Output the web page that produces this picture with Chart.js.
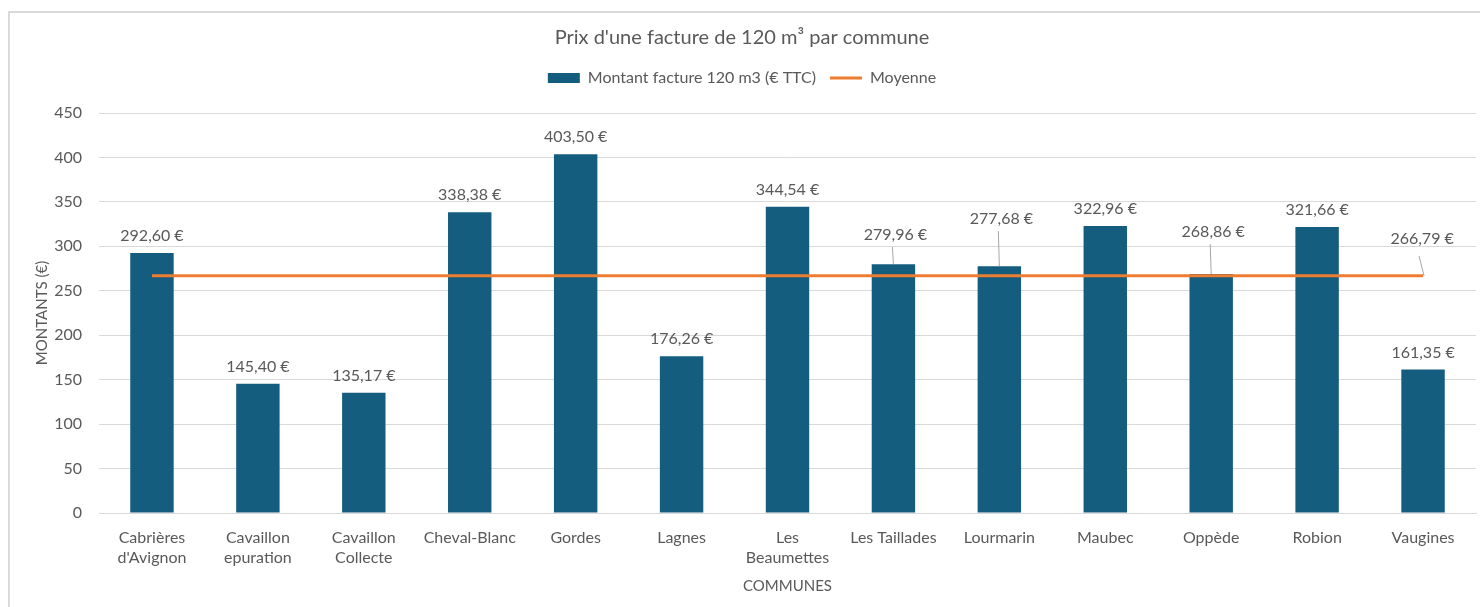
<!DOCTYPE html>
<html>
<head>
<meta charset="utf-8">
<script src="https://cdn.jsdelivr.net/npm/chart.js@4.4.0/dist/chart.umd.min.js"></script>
<style>
    html, body { margin: 0; padding: 0; background: #ffffff; }
    #wrap { position: absolute; left: 0; top: 0; width: 1480px; height: 607px; }
    #frame { position: absolute; left: 8px; top: 11px; width: 1480px; height: 610px;
             border-left: 2px solid #d9d9d9; border-top: 2px solid #d9d9d9; box-sizing: border-box; }
</style>
</head>
<body>
<div id="frame"></div>
<div id="wrap"><canvas id="factureChart"></canvas></div>
<script>
// Data
const communes = [
    ['Cabrières', "d'Avignon"], ['Cavaillon', 'epuration'], ['Cavaillon', 'Collecte'],
    'Cheval-Blanc', 'Gordes', 'Lagnes', ['Les', 'Beaumettes'], 'Les Taillades',
    'Lourmarin', 'Maubec', 'Oppède', 'Robion', 'Vaugines'
];
const montants = [292.60, 145.40, 135.17, 338.38, 403.50, 176.26, 344.54, 279.96, 277.68, 322.96, 268.86, 321.66, 161.35];
const moyenne = [266.79, 266.79, 266.79, 266.79, 266.79, 266.79, 266.79, 266.79, 266.79, 266.79, 266.79, 266.79, 266.79];
const yTicks = [0, 50, 100, 150, 200, 250, 300, 350, 400, 450];

const colors = {
    bar: '#155d7e',
    line: '#ed7d31',
    text: '#595959',
    grid: '#d9d9d9',
    leader: '#a6a6a6'
};

const fontFamily = 'Lato, "Open Sans", sans-serif';

function euro(v) {
    return v.toFixed(2).replace('.', ',') + '\u202f€';
}

// Data labels drawn above bars, some moved up with a leader line
const labelPlugin = {
    id: 'valueLabels',
    beforeInit(chart) {
        // extra room between legend and plot
        const legend = chart.legend;
        if (!legend) return;
        const fit = legend.fit;
        legend.fit = function() {
            fit.call(this);
            this.height += 17;
        };
    },
    afterDatasetsDraw(chart) {
        const ctx = chart.ctx;
        // lift (px) of the label centre above the mark, with leader line
        const barShift = { 7: -29, 8: -47, 10: -42 };
        ctx.save();
        ctx.font = '16px ' + fontFamily;
        ctx.fillStyle = '#595959';
        ctx.textAlign = 'center';
        ctx.textBaseline = 'middle';
        ctx.strokeStyle = colors.leader;
        ctx.lineWidth = 1;

        const barMeta = chart.getDatasetMeta(1);
        barMeta.data.forEach((bar, i) => {
            const v = montants[i];
            let cy = bar.y - 17;
            let cx = bar.x;
            if (barShift[i] !== undefined) {
                cy = bar.y + barShift[i];
                cx = bar.x + 2;
                ctx.beginPath();
                ctx.moveTo(bar.x - 1, cy + 12);
                ctx.lineTo(bar.x, bar.y);
                ctx.stroke();
            }
            ctx.fillText(euro(v), cx, cy);
        });

        // average label at the last point
        const lineMeta = chart.getDatasetMeta(0);
        const last = lineMeta.data[lineMeta.data.length - 1];
        const ly = last.y - 37;
        ctx.beginPath();
        ctx.moveTo(last.x - 4, ly + 17);
        ctx.lineTo(last.x + 1, last.y);
        ctx.stroke();
        ctx.fillText(euro(moyenne[moyenne.length - 1]), last.x - 1, ly);
        ctx.restore();
    }
};

const ctx = document.getElementById('factureChart');

new Chart(ctx, {
    data: {
        labels: communes,
        datasets: [
            {
                type: 'line',
                label: 'Moyenne',
                data: moyenne,
                borderColor: colors.line,
                backgroundColor: colors.line,
                borderWidth: 3,
                pointRadius: 0,
                tension: 0,
                order: 0
            },
            {
                type: 'bar',
                label: 'Montant facture 120 m3 (€ TTC)',
                data: montants,
                backgroundColor: colors.bar,
                borderWidth: 0,
                categoryPercentage: 1,
                barPercentage: 0.41,
                order: 1
            }
        ]
    },
    options: {
        responsive: true,
        maintainAspectRatio: false,
        animation: false,
        layout: {
            padding: { top: 26, left: 8, right: 4, bottom: 0 }
        },
        plugins: {
            title: {
                display: true,
                text: "Prix d'une facture de 120 m³ par commune",
                color: colors.text,
                font: { family: fontFamily, size: 20, weight: 'normal' },
                padding: { top: 0, bottom: 6 }
            },
            legend: {
                position: 'top',
                labels: {
                    color: colors.text,
                    font: { family: fontFamily, size: 16 },
                    usePointStyle: true,
                    pointStyleWidth: 32,
                    boxHeight: 10,
                    padding: 14,
                    generateLabels() {
                        return [
                            {
                                text: 'Montant facture 120 m3 (€ TTC)',
                                fillStyle: colors.bar,
                                strokeStyle: colors.bar,
                                lineWidth: 0,
                                pointStyle: 'rect',
                                fontColor: colors.text,
                                datasetIndex: 1
                            },
                            {
                                text: 'Moyenne',
                                fillStyle: colors.line,
                                strokeStyle: colors.line,
                                lineWidth: 3,
                                pointStyle: 'line',
                                fontColor: colors.text,
                                datasetIndex: 0
                            }
                        ];
                    }
                }
            },
            tooltip: { enabled: false }
        },
        scales: {
            x: {
                grid: { display: false },
                border: { display: true, color: colors.grid, width: 1 },
                ticks: {
                    color: colors.text,
                    font: { family: fontFamily, size: 16, lineHeight: 1.3 },
                    maxRotation: 0,
                    autoSkip: false,
                    padding: 6
                },
                title: {
                    display: true,
                    text: 'COMMUNES',
                    color: colors.text,
                    font: { family: fontFamily, size: 15 },
                    padding: { top: 0, bottom: 12 }
                },
                afterFit(scale) {
                    scale.height = 94;
                }
            },
            y: {
                min: 0,
                max: 450,
                afterBuildTicks(scale) {
                    scale.ticks = yTicks.map(v => ({ value: v }));
                },
                grid: { color: colors.grid, drawTicks: false },
                border: { display: false },
                ticks: {
                    color: colors.text,
                    font: { family: fontFamily, size: 16 },
                    padding: 17
                },
                title: {
                    display: true,
                    text: 'MONTANTS (€)',
                    color: colors.text,
                    font: { family: fontFamily, size: 15 },
                    padding: { top: 25 }
                },
                afterFit(scale) {
                    scale.width = 91;
                }
            }
        }
    },
    plugins: [labelPlugin]
});
</script>
</body>
</html>
